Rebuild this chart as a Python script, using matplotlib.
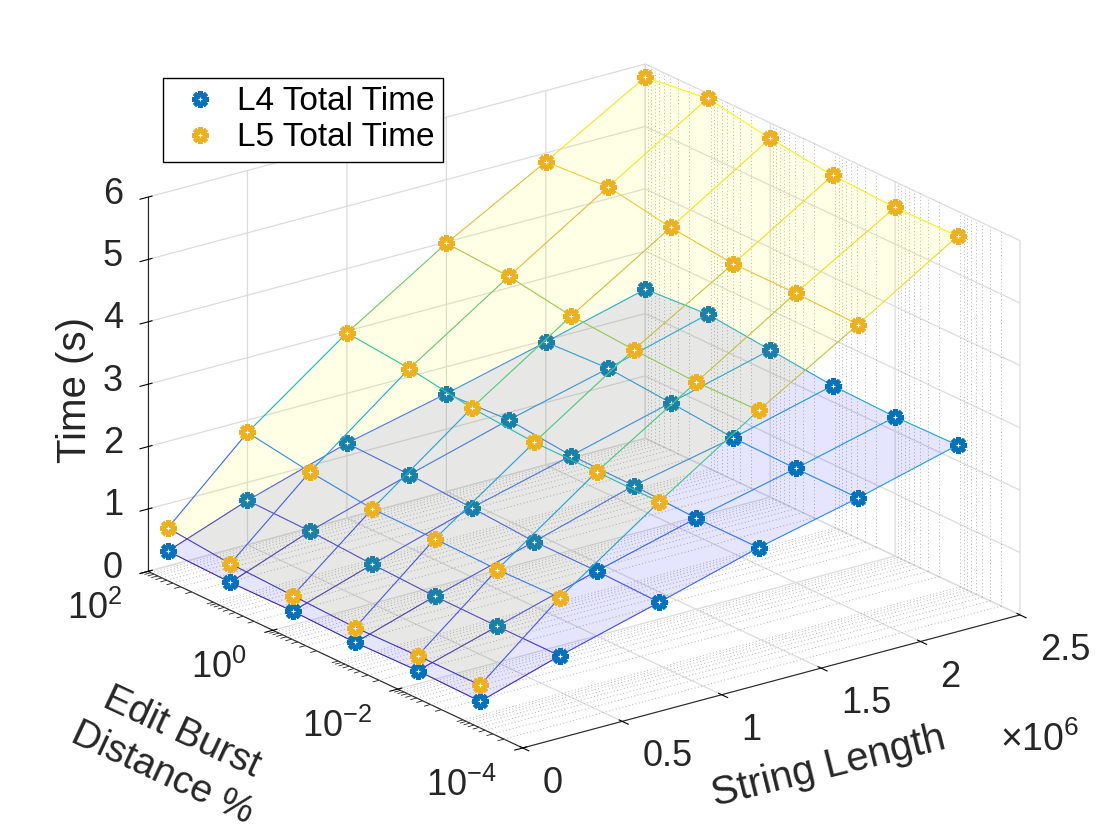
import numpy as np
import matplotlib
matplotlib.use('Agg')
import matplotlib.pyplot as plt
from matplotlib.colors import LinearSegmentedColormap, Normalize
from mpl_toolkits.mplot3d.art3d import Line3DCollection

plt.rcParams['font.family'] = ['Liberation Sans', 'DejaVu Sans']
plt.rcParams['mathtext.fontset'] = 'custom'
plt.rcParams['mathtext.rm'] = 'Liberation Sans'
plt.rcParams['grid.color'] = '#dcdcdc'
plt.rcParams['grid.linewidth'] = 0.9

# data
string_length = np.array([1e5, 5e5, 1e6, 1.5e6, 2e6, 2.5e6])
burst_distance = np.array([1e2, 1e1, 1e0, 1e-1, 1e-2, 1e-3])
# rows follow burst_distance, columns follow string_length
l4_time = np.array([
    [0.24, 0.71, 1.20, 1.57, 1.97, 2.39],
    [0.21, 0.69, 1.17, 1.62, 2.02, 2.46],
    [0.22, 0.63, 1.11, 1.52, 1.94, 2.36],
    [0.19, 0.59, 1.04, 1.51, 1.85, 2.26],
    [0.21, 0.58, 1.04, 1.46, 1.83, 2.23],
    [0.19, 0.58, 1.01, 1.46, 1.83, 2.25],
])
l5_time = np.array([
    [0.61, 1.80, 2.97, 3.98, 4.86, 5.79],
    [0.51, 1.64, 2.87, 3.92, 4.93, 5.92],
    [0.47, 1.52, 2.71, 3.76, 4.75, 5.75],
    [0.43, 1.51, 2.63, 3.69, 4.64, 5.63],
    [0.45, 1.49, 2.63, 3.64, 4.64, 5.59],
    [0.45, 1.51, 2.62, 3.66, 4.61, 5.60],
])
series_names = ['L4 Total Time', 'L5 Total Time']
x_ticks = [0, 0.5, 1, 1.5, 2, 2.5]
y_tick_exp = [-4, -2, 0, 2]
z_ticks = [0, 1, 2, 3, 4, 5, 6]

blue = '#0072BD'
orange = '#EDB120'
txt_col = '#262626'
parula = LinearSegmentedColormap.from_list('parula', [
    '#3E26A8', '#4852F4', '#2D87F7', '#12B1D6', '#37C897',
    '#94CB51', '#EDBA38', '#F6DF29', '#F9FB0E'])

X, Y = np.meshgrid(string_length / 1e6, np.log10(burst_distance))
norm = Normalize(min(l4_time.min(), l5_time.min()),
                 max(l4_time.max(), l5_time.max()))

fig = plt.figure(figsize=(11.2, 8.4), dpi=100)
ax = fig.add_axes([0, 0, 1, 1], projection='3d', computed_zorder=False)
ax.set_proj_type('ortho')
ax.view_init(elev=20.8, azim=-127)
ax.set_box_aspect((1, 1, 0.643))

for pane_axis in (ax.xaxis, ax.yaxis, ax.zaxis):
    pane_axis.set_pane_color((1, 1, 1, 0))
    pane_axis.pane.set_edgecolor('#dcdcdc')
    pane_axis.line.set_color(txt_col)
    pane_axis.line.set_linewidth(0.8)

# minor grid of the log axis
minor = np.log10(np.outer(10.0 ** np.arange(-4, 2), np.arange(2, 10)).ravel())
for m in minor:
    ax.plot([0, 2.5], [m, m], [0, 0], color='#b4b4b4', lw=0.7,
            ls=(0, (1, 2.5)), zorder=0.5)
    ax.plot([2.5, 2.5], [m, m], [0, 6], color='#b4b4b4', lw=0.7,
            ls=(0, (1, 2.5)), zorder=0.5)
    ax.plot([0, -0.03], [m, m], [0, 0], color=txt_col, lw=0.6, zorder=0.5)


def mesh_lines(Z):
    segs, vals = [], []
    for i in range(Z.shape[0]):
        for j in range(Z.shape[1]):
            if j + 1 < Z.shape[1]:
                segs.append([(X[i, j], Y[i, j], Z[i, j]),
                             (X[i, j + 1], Y[i, j + 1], Z[i, j + 1])])
                vals.append((Z[i, j] + Z[i, j + 1]) / 2)
            if i + 1 < Z.shape[0]:
                segs.append([(X[i, j], Y[i, j], Z[i, j]),
                             (X[i + 1, j], Y[i + 1, j], Z[i + 1, j])])
                vals.append((Z[i, j] + Z[i + 1, j]) / 2)
    return Line3DCollection(segs, colors=parula(norm(np.array(vals))),
                            linewidths=0.8)


handles = []
for k, (Z, col, face) in enumerate([(l4_time, blue, (0, 0, 1)),
                                    (l5_time, orange, (1, 1, 0))]):
    ax.plot_surface(X, Y, Z, color=face, alpha=0.1, linewidth=0,
                    edgecolor='none', antialiased=False, shade=False,
                    zorder=3 * k + 1)
    lc = mesh_lines(Z)
    lc.set_zorder(3 * k + 2)
    ax.add_collection3d(lc)
    h, = ax.plot(X.ravel(), Y.ravel(), Z.ravel(), ls='none',
                 marker=(8, 2, 0), ms=12, mew=3.0, color=col,
                 zorder=3 * k + 3)
    dot, = ax.plot(X.ravel(), Y.ravel(), Z.ravel(), ls='none',
                   marker='+', ms=3.5, mew=0.8, color='white',
                   zorder=3 * k + 3)
    handles.append((h, dot))

ax.set_xlim(0, 2.5)
ax.set_ylim(-4, 2)
ax.set_zlim(0, 6)
ax.set_xticks(x_ticks)
ax.set_yticks(y_tick_exp)
ax.set_zticks(z_ticks)
ax.set_xticklabels([])
ax.set_yticklabels([])
ax.set_zticklabels([])

fig.legend(handles=handles, labels=series_names, loc='upper left',
           bbox_to_anchor=(163 / 1120, 1 - 78 / 840), fontsize=24,
           frameon=True, fancybox=False, edgecolor='k', framealpha=1,
           borderaxespad=0, handlelength=1.7, handletextpad=0.28,
           borderpad=0.25, labelspacing=0.15)

# scale and move the 3d box to fill the same region as the reference
fig.canvas.draw()


def to_pixels(x, y, z):
    v = ax.get_proj() @ np.array([x, y, z, 1.0])
    return ax.transData.transform((v[0] / v[3], v[1] / v[3]))


corners = np.array(np.meshgrid([0, 2.5], [-4, 2], [0, 6])).reshape(3, -1).T
px = np.array([to_pixels(*c) for c in corners])
bb = ax.get_position()
side = bb.width * 1120
cx, cy = (bb.x0 + bb.width / 2) * 1120, (bb.y0 + bb.height / 2) * 840
s = (1020 - 148) / (px[:, 0].max() - px[:, 0].min())
pcx, pcy = px[:, 0].mean(), (px[:, 1].max() + px[:, 1].min()) / 2
ncx = 584 - s * (pcx - cx)
ncy = 434 - s * (pcy - cy)
ns = side * s
ax.set_position([(ncx - ns / 2) / 1120, (ncy - ns / 2) / 840,
                 ns / 1120, ns / 840])
fig.canvas.draw()


def label_at(x, y, z, dx, dy, text, **kw):
    p = to_pixels(x, y, z)
    fig.text((p[0] + dx) / 1120, (p[1] - dy) / 840, text, fontsize=26,
             color=txt_col, **kw)


# tick labels set the way MATLAB places them
for v in z_ticks:
    label_at(0, 2, v, -25, -3, f'{v:g}', ha='right', va='center')
for v in x_ticks:
    label_at(v, -4, 0, 20, 18, f'{v:g}', ha='left', va='top')
for e in y_tick_exp:
    label_at(0, e, 0, -26, 38, r'$\mathregular{10^{%d}}$' % e,
             ha='right', va='center')

# axis titles, placed like the reference
fig.text(75 / 1120, 1 - 390 / 840, 'Time (s)', fontsize=29, color=txt_col,
         rotation=90, ha='center', va='center', rotation_mode='anchor')
fig.text(172 / 1120, 1 - 753 / 840, 'Edit Burst\nDistance %', fontsize=28,
         color=txt_col, rotation=-25, ha='center', va='center',
         rotation_mode='anchor', linespacing=1.3, multialignment='center')
fig.text(829 / 1120, 1 - 767 / 840, 'String Length', fontsize=29,
         color=txt_col, rotation=14, ha='center', va='center',
         rotation_mode='anchor')
fig.text(1000 / 1120, 1 - 751 / 840, r'$\mathregular{\times10^{6}}$',
         fontsize=27, color=txt_col)

fig.savefig('out.png', dpi=100)
